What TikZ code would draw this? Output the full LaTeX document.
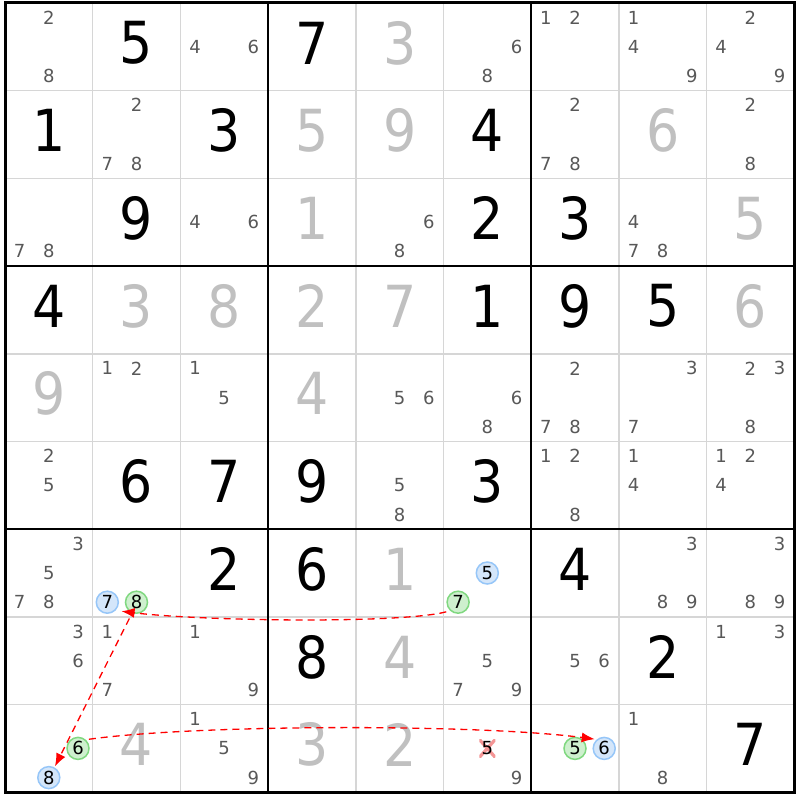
\documentclass[tikz,border=0pt]{standalone}
\usepackage{fontspec}
\setmainfont{DejaVu Sans}
\newfontfamily\bigdigitfont[FakeStretch=0.9]{DejaVu Sans}
\usetikzlibrary{arrows.meta}

\definecolor{solvedgray}{RGB}{192,192,192}
\definecolor{candgray}{RGB}{88,88,88}
\definecolor{thingrid}{RGB}{214,214,214}
\definecolor{onfill}{RGB}{206,240,206}
\definecolor{ondraw}{RGB}{128,216,128}
\definecolor{offfill}{RGB}{212,230,250}
\definecolor{offdraw}{RGB}{150,198,248}
\definecolor{crosspink}{RGB}{244,150,150}

\newcommand{\cellsz}{87.7}
% candidate #4 of cell (#2,#3), style #1
\newcommand{\candnode}[4]{%
  \pgfmathtruncatemacro\ci{mod(#4-1,3)}%
  \pgfmathtruncatemacro\cj{(#4-1)/3}%
  \node[#1] (n#2#3#4) at ({5+\cellsz*#3+14.6+29.2*\ci},{3+\cellsz*#2+14.6+29.2*\cj}) {#4};}

\tikzset{
  given/.style={font={\bigdigitfont\fontsize{58}{58}\selectfont}, inner sep=0pt, text=black},
  solved/.style={given, text=solvedgray},
  cand/.style={font={\fontsize{18}{18}\selectfont}, inner sep=0pt, text=candgray},
  oncand/.style={cand, text=black, circle, draw=ondraw, fill=onfill, line width=1.5pt, minimum size=22pt},
  offcand/.style={oncand, draw=offdraw, fill=offfill},
  crossed/.style={cand, text=black, minimum width=16pt, minimum height=18pt,
    path picture={\draw[crosspink, line width=3.2pt]
      (path picture bounding box.north west) -- (path picture bounding box.south east)
      (path picture bounding box.north east) -- (path picture bounding box.south west);}},
  link/.style={red, line width=1.3pt, dash pattern=on 7pt off 5pt, -{Latex[length=13pt,width=10pt]}}
}

\begin{document}
\begin{tikzpicture}[x=1pt,y=-1pt]
\useasboundingbox[fill=white] (0,0) rectangle (800,800);

% grid
\foreach \i in {1,2,4,5,7,8} {
  \draw[thingrid, line width=1.5pt] ({5+\cellsz*\i},3) -- ({5+\cellsz*\i},{3+9*\cellsz});
  \draw[thingrid, line width=1.5pt] (5,{3+\cellsz*\i}) -- ({5+9*\cellsz},{3+\cellsz*\i});
}
\foreach \i in {3,6} {
  \draw[line width=2.5pt] ({5+\cellsz*\i},3) -- ({5+\cellsz*\i},{3+9*\cellsz});
  \draw[line width=2.5pt] (5,{3+\cellsz*\i}) -- ({5+9*\cellsz},{3+\cellsz*\i});
}
\draw[line width=3pt] (5,3) rectangle ({5+9*\cellsz},{3+9*\cellsz});

% givens and solved cells
\foreach \r/\c/\d in {0/1/5, 0/3/7, 1/0/1, 1/2/3, 1/5/4, 2/1/9, 2/5/2, 2/6/3,
    3/0/4, 3/5/1, 3/6/9, 3/7/5, 5/1/6, 5/2/7, 5/3/9, 5/5/3, 6/2/2, 6/3/6,
    6/6/4, 7/3/8, 7/7/2, 8/8/7}
  \node[given] (v\r\c) at ({5+\cellsz*\c+43.85},{3+\cellsz*\r+40}) {\d};
\foreach \r/\c/\d in {0/4/3, 1/3/5, 1/4/9, 1/7/6, 2/3/1, 2/8/5, 3/1/3, 3/2/8,
    3/3/2, 3/4/7, 3/8/6, 4/0/9, 4/3/4, 6/4/1, 7/4/4, 8/1/4, 8/3/3, 8/4/2}
  \node[solved] (v\r\c) at ({5+\cellsz*\c+43.85},{3+\cellsz*\r+40}) {\d};

% candidates
\foreach \r/\c/\ds in {0/0/{2,8}, 0/2/{4,6}, 0/5/{6,8}, 0/6/{1,2}, 0/7/{1,4,9}, 0/8/{2,4,9},
    1/1/{2,7,8}, 1/6/{2,7,8}, 1/8/{2,8},
    2/0/{7,8}, 2/2/{4,6}, 2/4/{6,8}, 2/7/{4,7,8},
    4/1/{1,2}, 4/2/{1,5}, 4/4/{5,6}, 4/5/{6,8}, 4/6/{2,7,8}, 4/7/{3,7}, 4/8/{2,3,8},
    5/0/{2,5}, 5/4/{5,8}, 5/6/{1,2,8}, 5/7/{1,4}, 5/8/{1,2,4},
    6/0/{3,5,7,8}, 6/7/{3,8,9}, 6/8/{3,8,9},
    7/0/{3,6}, 7/1/{1,7}, 7/2/{1,9}, 7/5/{5,7,9}, 7/6/{5,6}, 7/8/{1,3},
    8/2/{1,5,9}, 8/5/{9}, 8/7/{1,8}}
  \foreach \d in \ds {\candnode{cand}{\r}{\c}{\d}}

% chain
\candnode{offcand}{6}{1}{7}
\candnode{oncand}{6}{1}{8}
\candnode{offcand}{6}{5}{5}
\candnode{oncand}{6}{5}{7}
\candnode{oncand}{8}{0}{6}
\candnode{offcand}{8}{0}{8}
\candnode{oncand}{8}{6}{5}
\candnode{offcand}{8}{6}{6}
\candnode{crossed}{8}{5}{5}

\draw[link, shorten <=4pt, shorten >=6pt] (n657.227) .. controls (400,624) and (200,621) .. (n617.-45);
\draw[link, shorten <=6pt, shorten >=1pt] (n618.248) -- (n808.61);
\draw[link, shorten <=3pt, shorten >=2pt] (n806.48) .. controls (200,724) and (480,724) .. (n866.130);
\end{tikzpicture}
\end{document}
